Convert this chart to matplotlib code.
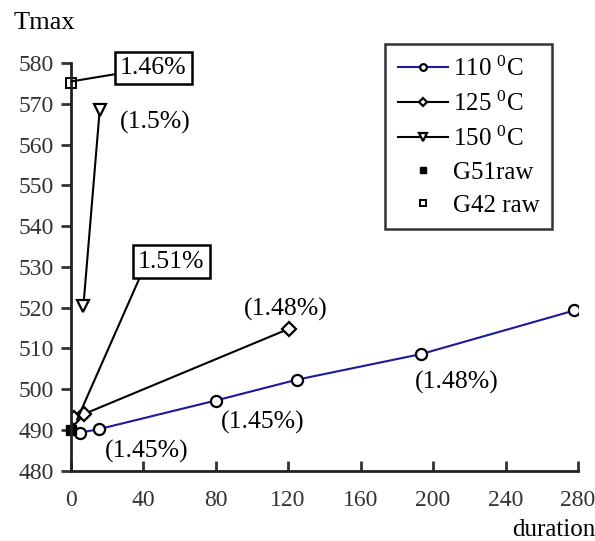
import numpy as np
import matplotlib.pyplot as plt

plt.rcParams['font.family'] = ['Liberation Serif', 'DejaVu Serif']
plt.rcParams['mathtext.fontset'] = 'custom'
plt.rcParams['mathtext.rm'] = 'Liberation Serif'

# 110 C series
d110 = [5.1, 15.7, 80, 124.7, 193.4, 278]
t110 = [489.3, 490.2, 497.2, 502.3, 508.6, 519.3]
# 125 C series
d125 = [1.8, 7.4, 120.4]
t125 = [492.9, 493.9, 514.8]
# 150 C series
d150 = [7, 16]
t150 = [520.3, 568.4]
# raw samples
d_g51 = [0]
t_g51 = [490]
d_g42 = [0]
t_g42 = [575.2]

fig = plt.figure(figsize=(5.95, 5.41), dpi=100)
ax = fig.add_axes([0.1188, 0.13, 0.8526, 0.7535])

ax.plot(d110, t110, '-o', color='#1a1a9a', lw=1.5, ms=8, mfc='white', mec='black', mew=1.6, label='110 $\\mathregular{^0}$C')
ax.plot(d125, t125, '-D', color='black', lw=1.5, ms=7, mfc='white', mec='black', mew=1.6, label='125 $\\mathregular{^0}$C')
ax.plot(d150, t150, '-v', color='black', lw=1.5, ms=9, mfc='white', mec='black', mew=1.6, label='150 $\\mathregular{^0}$C')
ax.plot(d_g51, t_g51, 's', color='black', ms=7, ls='none', label='G51raw', clip_on=False)
ax.plot(d_g42, t_g42, 's', mfc='white', mec='black', mew=1.4, ms=7, ls='none', label='G42 raw', clip_on=False)

fs = 18.5
box = dict(boxstyle='square,pad=0.2', fc='white', ec='black', lw=1.8)
ax.annotate('1.46%', xy=(0.5, 575.5), xytext=(45.5, 578.8), ha='center', va='center', fontsize=fs,
            bbox=box, arrowprops=dict(arrowstyle='-', color='black', lw=1.5, shrinkA=0, shrinkB=0))
ax.annotate('1.51%', xy=(3.5, 492.5), xytext=(55.5, 531.3), ha='center', va='center', fontsize=fs,
            bbox=box, arrowprops=dict(arrowstyle='-', color='black', lw=1.5, shrinkA=0, shrinkB=0,
                                      relpos=(0.06, 0)))
ax.text(46.5, 565.5, '(1.5%)', ha='center', va='center', fontsize=fs)
ax.text(118.6, 519.5, '(1.48%)', ha='center', va='center', fontsize=fs)
ax.text(42.2, 484.6, '(1.45%)', ha='center', va='center', fontsize=fs)
ax.text(105.9, 491.9, '(1.45%)', ha='center', va='center', fontsize=fs)
ax.text(213, 501.7, '(1.48%)', ha='center', va='center', fontsize=fs)

ax.set_xlim(0, 280)
ax.set_ylim(480, 580)
ax.set_xticks(np.arange(0, 281, 40))
ax.set_yticks(np.arange(480, 581, 10))
ax.spines['top'].set_visible(False)
ax.spines['right'].set_visible(False)
ax.spines['left'].set_linewidth(2)
ax.spines['bottom'].set_linewidth(2)
ax.tick_params(axis='y', direction='out', length=7, width=2, labelsize=17, colors='#333333', pad=5)
ax.tick_params(axis='x', direction='in', length=7, width=2, labelsize=17, colors='#333333', pad=14)
for s in ax.spines.values():
    s.set_color('#222222')

fig.text(0.074, 0.957, 'Tmax', ha='center', va='center', fontsize=19)
fig.text(0.93, 0.02, 'duration', ha='center', va='center', fontsize=18)

leg = ax.legend(loc='upper right', bbox_to_anchor=(0.949, 1.046), fontsize=18, frameon=True,
                fancybox=False, edgecolor='black', markerscale=0.6, handlelength=2.0,
                labelspacing=0.42, borderpad=0.5, handletextpad=0.2, borderaxespad=0)
leg.get_frame().set_linewidth(1.8)

fig.savefig('out.png', dpi=100)
